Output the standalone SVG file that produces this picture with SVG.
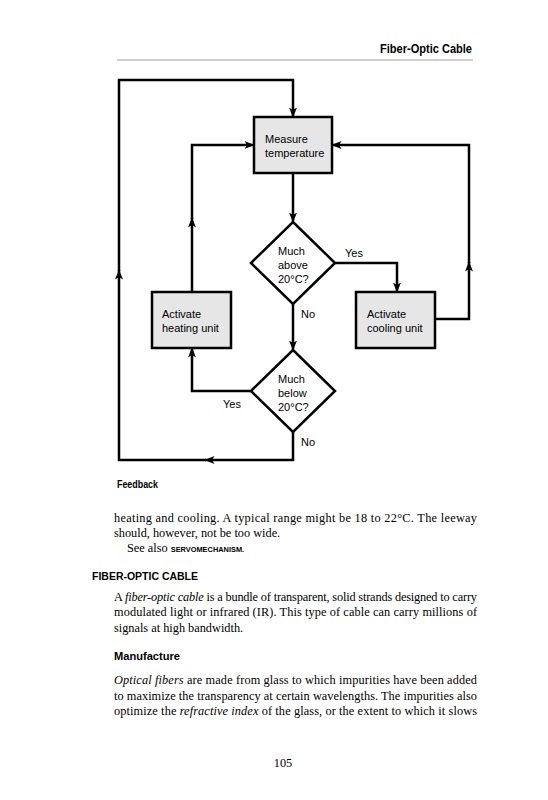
<svg xmlns="http://www.w3.org/2000/svg" width="548" height="800" viewBox="0 0 548 800">
<style>
.box{fill:#e6e6e6;stroke:#000;stroke-width:2.5}
.dia{fill:#fff;stroke:#000;stroke-width:2.5;stroke-linejoin:miter}
.c{fill:none;stroke:#000;stroke-width:2.5;stroke-linejoin:miter}
.lbl{font-family:"Liberation Sans",Arial,sans-serif;font-size:11px;fill:#000}
.hd{font-family:"Liberation Sans",Arial,sans-serif;font-weight:bold;fill:#000}
.bd{font-family:"Liberation Serif","Times New Roman",serif;font-size:12.3px;fill:#000}
.it{font-style:italic}
</style>
<defs>
<marker id="ah" viewBox="0 0 10 8" refX="9.5" refY="4" markerWidth="10" markerHeight="8" markerUnits="userSpaceOnUse" orient="auto">
<path d="M0,0 L10,4 L0,8 L2.5,4 z" fill="#000"/>
</marker>
</defs>
<rect width="548" height="800" fill="#fff"/>
<g id="header">
<text class="hd" x="472" y="53" font-size="12" text-anchor="end" textLength="92" lengthAdjust="spacingAndGlyphs">Fiber-Optic Cable</text>
<line x1="117" y1="60" x2="473" y2="60" stroke="#888" stroke-width="0.8"/>
</g>
<g id="connectors">
<path class="c" d="M293,173 V222" marker-end="url(#ah)"/>
<path class="c" d="M335,263 H397 V292" marker-end="url(#ah)"/>
<path class="c" d="M293,304 V350" marker-end="url(#ah)"/>
<path class="c" d="M251,391 H192 V348" marker-end="url(#ah)"/>
<path class="c" d="M293,432 V460 H205" marker-end="url(#ah)"/>
<path class="c" d="M206,460 H119 V270" marker-end="url(#ah)"/>
<path class="c" d="M119,271 V80 H293 V117" marker-end="url(#ah)"/>
<path class="c" d="M192,292 V218" marker-end="url(#ah)"/>
<path class="c" d="M192,219 V145 H254" marker-end="url(#ah)"/>
<path class="c" d="M435,319 H469 V262" marker-end="url(#ah)"/>
<path class="c" d="M469,263 V145 H332" marker-end="url(#ah)"/>
<text class="lbl" x="345" y="257">Yes</text>
<text class="lbl" x="301" y="318">No</text>
<text class="lbl" x="223" y="408">Yes</text>
<text class="lbl" x="301" y="446">No</text>
</g>
<g id="measure">
<rect class="box" x="254" y="117" width="78" height="56"/>
<text class="lbl" x="265" y="143">Measure</text>
<text class="lbl" x="265" y="157">temperature</text>
</g>
<g id="above">
<polygon class="dia" points="293,222 335,263 293,304 251,263"/>
<text class="lbl" x="278" y="255">Much</text>
<text class="lbl" x="278" y="269">above</text>
<text class="lbl" x="278" y="283">20°C?</text>
</g>
<g id="below">
<polygon class="dia" points="293,350 335,391 293,432 251,391"/>
<text class="lbl" x="278" y="383">Much</text>
<text class="lbl" x="278" y="397">below</text>
<text class="lbl" x="278" y="411">20°C?</text>
</g>
<g id="heating">
<rect class="box" x="152" y="292" width="79" height="56"/>
<text class="lbl" x="162" y="318">Activate</text>
<text class="lbl" x="162" y="332">heating unit</text>
</g>
<g id="cooling">
<rect class="box" x="356" y="292" width="79" height="56"/>
<text class="lbl" x="367" y="318">Activate</text>
<text class="lbl" x="367" y="332">cooling unit</text>
</g>
<g id="body">
<text class="hd" x="117" y="488" font-size="10.5" textLength="41" lengthAdjust="spacingAndGlyphs">Feedback</text>
<text class="bd" x="114" y="522" textLength="363" lengthAdjust="spacing">heating and cooling. A typical range might be 18 to 22°C. The leeway</text>
<text class="bd" x="114" y="537">should, however, not be too wide.</text>
<text class="bd" x="127" y="552">See also <tspan class="hd" font-size="7.4">SERVOMECHANISM.</tspan></text>
<text class="hd" x="92" y="580" font-size="11" textLength="106" lengthAdjust="spacingAndGlyphs">FIBER-OPTIC CABLE</text>
<text class="bd" x="114" y="601" textLength="363" lengthAdjust="spacing">A <tspan class="it">fiber-optic cable</tspan> is a bundle of transparent, solid strands designed to carry</text>
<text class="bd" x="114" y="616" textLength="363" lengthAdjust="spacing">modulated light or infrared (IR). This type of cable can carry millions of</text>
<text class="bd" x="114" y="632">signals at high bandwidth.</text>
<text class="hd" x="114" y="660" font-size="11" textLength="66" lengthAdjust="spacingAndGlyphs">Manufacture</text>
<text class="bd" x="114" y="684" textLength="363" lengthAdjust="spacing"><tspan class="it">Optical fibers</tspan> are made from glass to which impurities have been added</text>
<text class="bd" x="114" y="700" textLength="363" lengthAdjust="spacing">to maximize the transparency at certain wavelengths. The impurities also</text>
<text class="bd" x="114" y="715" textLength="363" lengthAdjust="spacing">optimize the <tspan class="it">refractive index</tspan> of the glass, or the extent to which it slows</text>
<text class="bd" x="283" y="767" text-anchor="middle">105</text>
</g>
</svg>
